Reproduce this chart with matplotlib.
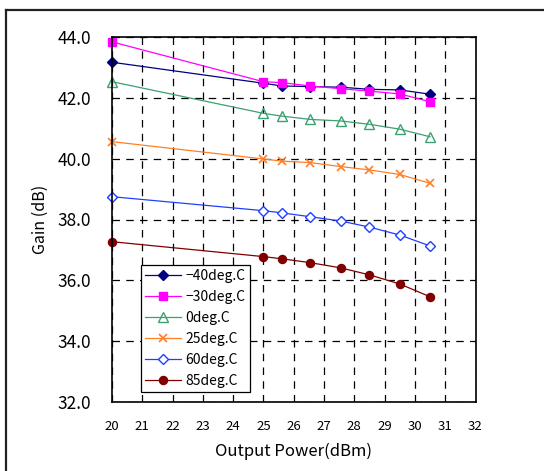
import numpy as np
import matplotlib
matplotlib.use("Agg")
import matplotlib.pyplot as plt
from matplotlib.lines import Line2D

plt.rcParams['font.family'] = ['Noto Sans CJK JP', 'DejaVu Sans']

# 出力電力 (dBm)
power = [20, 25, 25.6, 26.55, 27.55, 28.5, 29.5, 30.5]

# 温度ごとの利得 (dB)
gain_m40 = [43.17, 42.48, 42.39, 42.37, 42.35, 42.28, 42.26, 42.12]
gain_m30 = [43.84, 42.53, 42.50, 42.39, 42.30, 42.22, 42.13, 41.87]
gain_0 = [42.53, 41.49, 41.40, 41.29, 41.24, 41.13, 40.97, 40.72]
gain_25 = [40.56, 39.99, 39.92, 39.87, 39.74, 39.63, 39.48, 39.19]
gain_60 = [38.75, 38.29, 38.22, 38.09, 37.95, 37.75, 37.49, 37.13]
gain_85 = [37.27, 36.78, 36.71, 36.58, 36.41, 36.18, 35.88, 35.46]

labels = ["\u221240deg.C", "\u221230deg.C", "0deg.C", "25deg.C", "60deg.C", "85deg.C"]

xticks = list(range(20, 33))
yticks = [32, 34, 36, 38, 40, 42, 44]

fig = plt.figure(figsize=(5.44, 4.71), dpi=100)
W, H = 544, 471
ax = fig.add_axes([112 / W, 1 - 402 / H, (475.5 - 112) / W, (402 - 37) / H])

# 外枠 (右と下は画像の外)
fig.add_artist(Line2D([6 / W, 6 / W], [0, 1 - 10 / H], transform=fig.transFigure,
                      color="#222222", linewidth=1.6))
fig.add_artist(Line2D([6 / W, 1], [1 - 10 / H, 1 - 10 / H], transform=fig.transFigure,
                      color="#222222", linewidth=1.6))

series = [
    (gain_m40, dict(color="#000080", marker="D", markersize=5.2, mfc="#000080")),
    (gain_m30, dict(color="#FF00FF", marker="s", markersize=6, mfc="#FF00FF")),
    (gain_0, dict(color="#3CA070", marker="^", markersize=6.5, mfc="none")),
    (gain_25, dict(color="#FF7F27", marker="x", markersize=6, mew=1.2)),
    (gain_60, dict(color="#1F3FFF", marker="D", markersize=4.6, mfc="white")),
    (gain_85, dict(color="#800000", marker="o", markersize=5.8, mfc="#800000")),
]

for (g, st), lab in zip(series, labels):
    ax.plot(power, g, linewidth=0.9, label=lab, clip_on=False, **st)

ax.set_xlim(20, 32)
ax.set_ylim(32, 44)
ax.set_xticks(xticks)
ax.set_yticks(yticks)
ax.set_yticklabels([f"{v:.1f}" for v in yticks], fontsize=12.5)
ax.set_xticklabels([str(v) for v in xticks], fontsize=9.5)
ax.tick_params(axis="both", direction="in", length=0)
ax.tick_params(axis="y", pad=15)
ax.tick_params(axis="x", pad=13)
ax.grid(True, color="black", linestyle=(0, (6, 5)), linewidth=0.9)
for sp in ax.spines.values():
    sp.set_linewidth(1.2)

ax.set_xlabel("Output Power(dBm)", fontsize=12, labelpad=7)
ax.set_ylabel("Gain (dB)", fontsize=11.5, labelpad=6)

leg = ax.legend(loc="lower left", bbox_to_anchor=(0.08, 0.027), borderaxespad=0,
                fancybox=False, framealpha=1, edgecolor="black", fontsize=10,
                handlelength=2.6, handletextpad=0.3, labelspacing=0.5,
                borderpad=0.3)
leg.get_frame().set_linewidth(0.9)

fig.savefig("out.png", dpi=100)
